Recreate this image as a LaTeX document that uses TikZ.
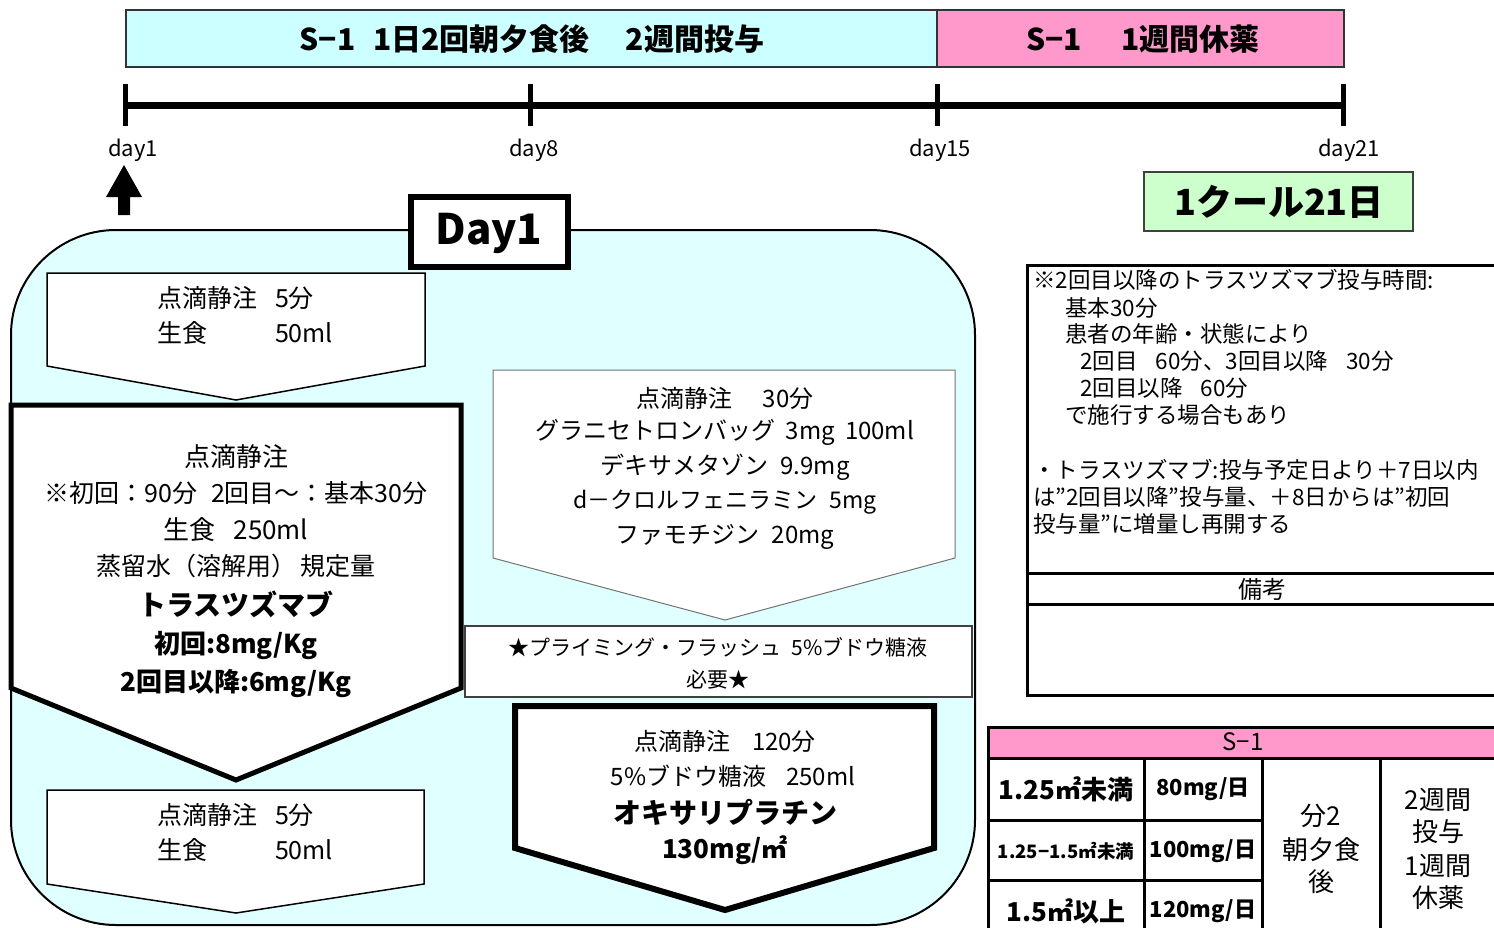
\documentclass[tikz,border=0pt]{standalone}
\usepackage{fontspec}
\setmainfont{Noto Sans CJK JP}
\definecolor{barcyan}{HTML}{CCFFFF}
\definecolor{barpink}{HTML}{FF99CC}
\definecolor{daycyan}{HTML}{E0FFFF}
\definecolor{cgreen}{HTML}{CCFFCC}
\newcommand\myfs[1]{\fontsize{#1}{#1}\selectfont}
\begin{document}
\begin{tikzpicture}[x=1pt,y=-1pt,
  txt/.style={inner sep=0pt,align=center},
  lt/.style={inner sep=0pt,anchor=west},
  thin box/.style={draw=black,line width=1.5,fill=white},
  gray box/.style={draw=black!55,line width=1,fill=white},
  thick box/.style={draw=black,line width=5,fill=white,line join=miter},
  tick/.style={line width=5}]
\clip (0,0) rectangle (1494,927);
\fill[white] (0,0) rectangle (1494,927);

% top bars
\draw[draw=black!80,line width=1.5,fill=barcyan] (126,10) rectangle (937,67);
\draw[draw=black!80,line width=1.5,fill=barpink] (937,10) rectangle (1344,67);
\node[txt,font=\myfs{30}\bfseries] (bar1) at (532,39) {S−1\hspace{18pt}1日2回朝夕食後\hspace{36pt}2週間投与};
\node[txt,font=\myfs{30}\bfseries] (bar2) at (1143,39) {S−1\hspace{40pt}1週間休薬};

% timeline
\coordinate (d1) at (125,105);
\coordinate (d8) at (530,105);
\coordinate (d15) at (937,105);
\coordinate (d21) at (1343,105);
\draw[line width=7] (d1) -- (d21);
\foreach \c in {d1,d8,d15,d21}{\draw[tick] ([yshift=-21pt]\c) -- ([yshift=21pt]\c);}
\node[txt,font=\myfs{22}] (l1) at (133,150) {day1};
\node[txt,font=\myfs{22}] (l8) at (534,150) {day8};
\node[txt,font=\myfs{22}] (l15) at (940,150) {day15};
\node[txt,font=\myfs{22}] (l21) at (1349,150) {day21};

% arrow
\fill (124,165) -- (142,197) -- (130,197) -- (130,215) -- (118,215) -- (118,197) -- (106,197) -- cycle;

% cycle box
\draw[draw=black!75,line width=1.5,fill=cgreen] (1144,172) rectangle (1413,231);
\node[txt,font=\myfs{36}\bfseries] (cyc) at (1279,202) {1クール21日};

% Day1 big area
\draw[line width=2,fill=daycyan,rounded corners=105] (11,230) rectangle (975,925);

% top small pentagon
\draw[thin box] (47,273) -- (425,273) -- (425,366) -- (236,400) -- (47,366) -- cycle;
\node[txt,font=\myfs{25}] (p1) at (245,318) {\begin{tabular}{@{}l@{\hspace{18pt}}l@{}}点滴静注&5分\\[6pt]生食&50ml\end{tabular}};

% trastuzumab pentagon
\draw[thick box] (11,405) -- (461,405) -- (461,688) -- (236,780) -- (11,688) -- cycle;
\node[txt,font=\myfs{26}] (tr1) at (236,457) {点滴静注};
\node[txt,font=\myfs{25}] (tr2) at (236,493) {※初回：90分\hspace{14pt}2回目～：基本30分};
\node[txt,font=\myfs{26}] (tr3) at (236,530) {生食\hspace{18pt}250ml};
\node[txt,font=\myfs{25}] (tr4) at (236,566) {蒸留水（溶解用）\hspace{4pt}規定量};
\node[txt,font=\myfs{28}\bfseries] (tr5) at (236,604) {トラスツズマブ};
\node[txt,font=\myfs{26}\bfseries] (tr6) at (236,645) {初回:8mg/Kg};
\node[txt,font=\myfs{26}\bfseries] (tr7) at (236,684) {2回目以降:6mg/Kg};

% bottom small pentagon
\draw[thin box] (47,790) -- (424,790) -- (424,884) -- (236,913) -- (47,884) -- cycle;
\node[txt,font=\myfs{25}] (p2) at (245,835) {\begin{tabular}{@{}l@{\hspace{18pt}}l@{}}点滴静注&5分\\[6pt]生食&50ml\end{tabular}};

% premedication pentagon
\draw[gray box] (493,370) -- (955,370) -- (955,558) -- (725,620) -- (493,558) -- cycle;
\node[txt,font=\myfs{24}] (pm1) at (725,398) {点滴静注\hspace{30pt}30分};
\node[txt,font=\myfs{24}] (pm2) at (725,432) {グラニセトロンバッグ\hspace{10pt}3mg\hspace{10pt}100ml};
\node[txt,font=\myfs{24}] (pm3) at (725,467) {デキサメタゾン\hspace{12pt}9.9mg};
\node[txt,font=\myfs{23}] (pm4) at (725,502) {d－クロルフェニラミン\hspace{12pt}5mg};
\node[txt,font=\myfs{24}] (pm5) at (725,537) {ファモチジン\hspace{12pt}20mg};

% priming box
\draw[draw=black!75,line width=1.5,fill=white] (465,626) rectangle (972,697);
\node[txt,font=\myfs{21}] (pr1) at (718,647) {★プライミング・フラッシュ\hspace{10pt}5\%ブドウ糖液};
\node[txt,font=\myfs{21}] (pr2) at (718,680) {必要★};

% oxaliplatin pentagon
\draw[thick box,line width=6] (515,706) -- (934,706) -- (934,848) -- (725,910) -- (515,848) -- cycle;
\node[txt,font=\myfs{24}] (ox1) at (725,741) {点滴静注\hspace{22pt}120分};
\node[txt,font=\myfs{24}] (ox2) at (733,776) {5\%ブドウ糖液\hspace{20pt}250ml};
\node[txt,font=\myfs{28}\bfseries] (ox3) at (725,812) {オキサリプラチン};
\node[txt,font=\myfs{26}\bfseries] (ox4) at (725,850) {130mg/㎡};

% Day1 label box
\draw[line width=6,fill=white] (411,197) rectangle (568,267);
\node[txt,font=\myfs{42}\bfseries] (day1) at (489,233) {Day1};

% notes box
\draw[line width=3] (1027,265) rectangle (1510,695);
\draw[line width=3] (1027,573) -- (1510,573);
\draw[line width=3] (1027,604) -- (1510,604);
\node[txt,font=\myfs{24}] (bk) at (1262,589) {備考};
\node[lt,font=\myfs{22.5}] (nt1) at (1033,280) {※2回目以降のトラスツズマブ投与時間:};
\node[lt,font=\myfs{22.5}] (nt2) at (1065,308) {基本30分};
\node[lt,font=\myfs{22.5}] (nt3) at (1065,334) {患者の年齢・状態により};
\node[lt,font=\myfs{22.5}] (nt4) at (1080,361) {2回目\hspace{18pt}60分、3回目以降\hspace{18pt}30分};
\node[lt,font=\myfs{22.5}] (nt5) at (1080,388) {2回目以降\hspace{18pt}60分};
\node[lt,font=\myfs{22.5}] (nt6) at (1065,415) {で施行する場合もあり};
\node[lt,font=\myfs{22.5}] (nt7) at (1033,470) {・トラスツズマブ:投与予定日より＋7日以内};
\node[lt,font=\myfs{22.5}] (nt8) at (1033,497) {は”2回目以降”投与量、＋8日からは”初回};
\node[lt,font=\myfs{22.5}] (nt9) at (1033,524) {投与量”に増量し再開する};

% S-1 table
\draw[line width=3,fill=barpink] (988,727) rectangle (1510,758);
\node[txt,font=\myfs{24}] (th) at (1243,742) {S−1};
\draw[line width=3] (988,758) -- (988,935);
\draw[line width=3] (1144,758) -- (1144,935);
\draw[line width=3] (1262,758) -- (1262,935);
\draw[line width=3] (1380,758) -- (1380,935);
\draw[line width=3] (988,820) -- (1262,820);
\draw[line width=3] (988,880) -- (1262,880);
\node[txt,font=\myfs{26}\bfseries] (c11) at (1066,789) {1.25㎡未満};
\node[txt,font=\myfs{18.5}\bfseries] (c21) at (1066,851) {1.25−1.5㎡未満};
\node[txt,font=\myfs{26}\bfseries] (c31) at (1066,911) {1.5㎡以上};
\node[txt,font=\myfs{22}\bfseries] (c12) at (1203,789) {80mg/日};
\node[txt,font=\myfs{22}\bfseries] (c22) at (1203,851) {100mg/日};
\node[txt,font=\myfs{22}\bfseries] (c32) at (1203,911) {120mg/日};
\node[txt,font=\myfs{26}] (c3a) at (1321,816) {分2};
\node[txt,font=\myfs{26}] (c3b) at (1321,850) {朝夕食};
\node[txt,font=\myfs{26}] (c3c) at (1321,882) {後};
\node[txt,font=\myfs{26}] (c4a) at (1438,800) {2週間};
\node[txt,font=\myfs{26}] (c4b) at (1438,832) {投与};
\node[txt,font=\myfs{26}] (c4c) at (1438,866) {1週間};
\node[txt,font=\myfs{26}] (c4d) at (1438,898) {休薬};
\end{tikzpicture}
\end{document}
